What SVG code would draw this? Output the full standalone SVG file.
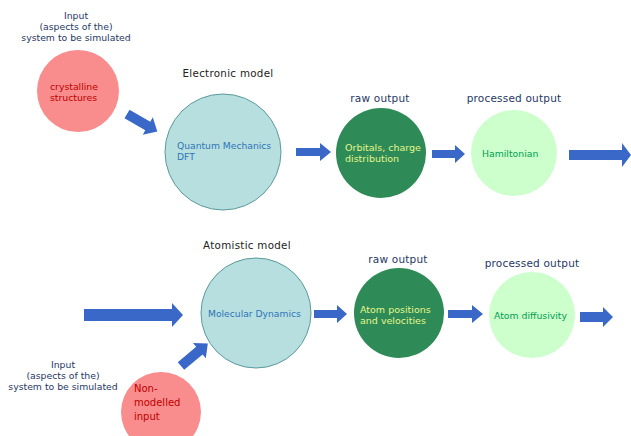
<svg xmlns="http://www.w3.org/2000/svg" width="631" height="436" viewBox="0 0 631 436">
<style>
  text { font-family: "DejaVu Sans", Verdana, sans-serif; }
  .lbl { font-size: 9.3px; fill: #1f3864; text-anchor: middle; }
  .hdr { font-size: 10.5px; fill: #1f3864; text-anchor: middle; letter-spacing: 0.2px; }
  .model { font-size: 10.3px; fill: #222; text-anchor: middle; letter-spacing: 0.3px; }
  .red { fill: #f98c8c; }
  .redt { fill: #c00000; }
  .teal { fill: #b7dfe0; stroke: #5a9a9c; stroke-width: 1; }
  .tealt { fill: #2e75b6; font-size: 9.2px; }
  .dark { fill: #2e8b57; }
  .darkt { fill: #e6f58a; font-size: 9.5px; }
  .light { fill: #ccffcc; }
  .lightt { fill: #00a050; font-size: 9.3px; }
  .arr { fill: #3a68c8; }
</style>

<g id="connectors">
  <polygon class="arr" transform="translate(127,114) rotate(30)" points="0,-5 24,-5 24,-10 35,0 24,10 24,5 0,5"/>
  <polygon class="arr" points="296,148 320,148 320,143 331,152 320,161 320,156 296,156"/>
  <polygon class="arr" points="432,150 455,150 455,145 465,154 455,163 455,158 432,158"/>
  <polygon class="arr" points="569,150 622,150 622,143 631,155 622,167 622,160 569,160"/>
  <polygon class="arr" points="84,309 172,309 172,303 183,315 172,327 172,321 84,321"/>
  <polygon class="arr" transform="translate(181,366) rotate(-40)" points="0,-5 24,-5 24,-10 35,0 24,10 24,5 0,5"/>
  <polygon class="arr" points="314,310 337,310 337,305 347,314 337,323 337,318 314,318"/>
  <polygon class="arr" points="448,310 472,310 472,305 483,314 472,323 472,318 448,318"/>
  <polygon class="arr" points="580,312 603,312 603,307 613,317 603,327 603,322 580,322"/>
</g>

<g id="input-top">
  <text class="lbl" x="76" y="19">Input</text>
  <text class="lbl" x="76" y="30">(aspects of the)</text>
  <text class="lbl" x="76" y="41">system to be simulated</text>
</g>

<g id="crystalline">
  <circle class="red" cx="78" cy="91" r="41"/>
  <text class="redt" x="50" y="90" font-size="9.3">crystalline</text>
  <text class="redt" x="50" y="101" font-size="9.3">structures</text>
</g>

<g id="electronic-title">
  <text class="model" x="228" y="77">Electronic model</text>
</g>

<g id="qm">
  <circle class="teal" cx="223" cy="152" r="58"/>
  <text class="tealt" x="177" y="149">Quantum Mechanics</text>
  <text class="tealt" x="177" y="160">DFT</text>
</g>

<g id="raw-top">
  <text class="hdr" x="380" y="102">raw output</text>
  <circle class="dark" cx="381" cy="153" r="45"/>
  <text class="darkt" x="345" y="151">Orbitals, charge</text>
  <text class="darkt" x="345" y="162">distribution</text>
</g>

<g id="processed-top">
  <text class="hdr" x="514" y="102">processed output</text>
  <circle class="light" cx="514" cy="153" r="43"/>
  <text class="lightt" x="482" y="157">Hamiltonian</text>
</g>

<g id="atomistic-title">
  <text class="model" x="247" y="249">Atomistic model</text>
</g>

<g id="md">
  <circle class="teal" cx="256" cy="313" r="55"/>
  <text class="tealt" x="208" y="317">Molecular Dynamics</text>
</g>

<g id="raw-bottom">
  <text class="hdr" x="398" y="263">raw output</text>
  <circle class="dark" cx="399" cy="313" r="45"/>
  <text class="darkt" x="360" y="313">Atom positions</text>
  <text class="darkt" x="360" y="324">and velocities</text>
</g>

<g id="processed-bottom">
  <text class="hdr" x="532" y="267">processed output</text>
  <circle class="light" cx="532" cy="315" r="43"/>
  <text class="lightt" x="494" y="319">Atom diffusivity</text>
</g>

<g id="input-bottom">
  <text class="lbl" x="63" y="368">Input</text>
  <text class="lbl" x="63" y="379">(aspects of the)</text>
  <text class="lbl" x="63" y="390">system to be simulated</text>
</g>

<g id="non-modelled">
  <circle class="red" cx="161" cy="412" r="40"/>
  <text class="redt" x="134" y="392" font-size="10">Non-</text>
  <text class="redt" x="134" y="406" font-size="10">modelled</text>
  <text class="redt" x="134" y="420" font-size="10">input</text>
</g>
</svg>
